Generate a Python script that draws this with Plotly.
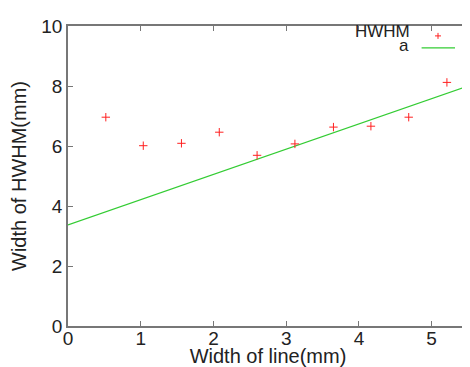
import plotly.graph_objects as go

# data
line_width_mm = [0.52, 1.035, 1.56, 2.08, 2.60, 3.12, 3.65, 4.165, 4.685, 5.21]
hwhm_mm = [6.96, 6.01, 6.09, 6.46, 5.69, 6.07, 6.63, 6.66, 6.96, 8.12]
fit_x = [0.0, 5.5]
fit_y = [3.37, 8.0]
x_ticks = [0, 1, 2, 3, 4, 5]
y_ticks = [0, 2, 4, 6, 8, 10]

RED = "#ff2020"
GREEN = "#33cc33"
AXIS = "#777777"
FAM = "Liberation Sans, Arial, sans-serif"
TICKFONT = dict(family=FAM, size=19, color="#222222")
TITLEFONT = dict(family=FAM, size=20, color="#222222")
LEGFONT = dict(family=FAM, size=17, color="#222222")

fig = go.Figure()
fig.add_trace(go.Scatter(x=fit_x, y=fit_y, mode="lines",
                         line=dict(color=GREEN, width=1.2), name="a", showlegend=False))
fig.add_trace(go.Scatter(x=line_width_mm, y=hwhm_mm, mode="markers",
                         marker=dict(symbol="cross-thin", size=6, line=dict(color=RED, width=1)),
                         name="HWHM", showlegend=False))

axis_common = dict(showgrid=False, zeroline=False, showline=True, linecolor=AXIS, linewidth=1.5,
                   mirror="ticks", ticks="inside", ticklen=5, tickcolor=AXIS, tickwidth=1,
                   tickfont=TICKFONT, automargin=False)
fig.update_xaxes(range=[0, 5.5], tickvals=x_ticks, ticklabelstandoff=-6,
                 title=dict(text="Width of line(mm)", font=TITLEFONT, standoff=6),
                 **axis_common)
fig.update_yaxes(range=[0, 10], tickvals=y_ticks,
                 title=dict(text="Width of HWHM(mm)", font=TITLEFONT, standoff=10),
                 **axis_common)

# legend drawn manually (text left of symbol, gnuplot style)
fig.add_annotation(xref="paper", yref="paper", x=0.859, y=0.982, text="HWHM", showarrow=False,
                   xanchor="right", yanchor="middle", font=LEGFONT)
fig.add_annotation(xref="paper", yref="paper", x=0.857, y=0.935, text="a", showarrow=False,
                   xanchor="right", yanchor="middle", font=LEGFONT)
fig.add_shape(type="line", xref="paper", yref="paper", x0=0.9175, x1=0.9325, y0=0.967, y1=0.967,
              line=dict(color=RED, width=1))
fig.add_shape(type="line", xref="paper", yref="paper", x0=0.925, x1=0.925, y0=0.957, y1=0.977,
              line=dict(color=RED, width=1))
fig.add_shape(type="line", xref="paper", yref="paper", x0=0.884, x1=0.9675, y0=0.927, y1=0.927,
              line=dict(color=GREEN, width=1.2))

# page body has an 8px margin, so the figure is sized/offset to land the plot where the reference has it
fig.update_layout(width=462, height=359, margin=dict(l=60, r=2, t=18, b=41),
                  plot_bgcolor="white", paper_bgcolor="white")
fig.write_html("out.html")
